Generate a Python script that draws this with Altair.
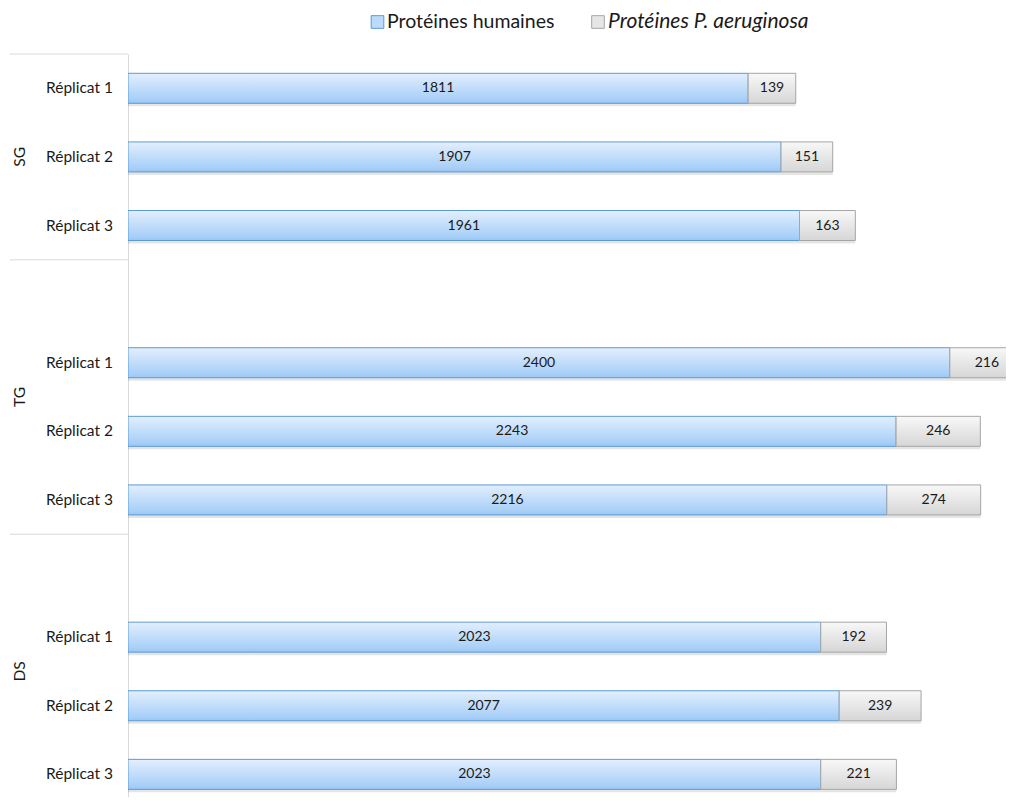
import altair as alt
import pandas as pd

# ---- data -----------------------------------------------------------------
groups = ["SG", "TG", "DS"]
replicats = ["Réplicat 1", "Réplicat 2", "Réplicat 3"]
row_groups = ["SG", "SG", "SG", "TG", "TG", "TG", "DS", "DS", "DS"]
row_replicats = replicats * 3
human = [1811, 1907, 1961, 2400, 2243, 2216, 2023, 2077, 2023]
aeruginosa = [139, 151, 163, 216, 246, 274, 192, 239, 221]
# category order of the original axis (with the empty category before TG and DS)
categories = [
    "SG|Réplicat 1", "SG|Réplicat 2", "SG|Réplicat 3",
    "TG|", "TG|Réplicat 1", "TG|Réplicat 2", "TG|Réplicat 3",
    "DS|", "DS|Réplicat 1", "DS|Réplicat 2", "DS|Réplicat 3",
]
series = ["Protéines humaines", "Protéines P. aeruginosa"]

# ---- tables ---------------------------------------------------------------
df = pd.DataFrame({
    "groupe": row_groups,
    "replicat": row_replicats,
    "humain": human,
    "pa": aeruginosa,
})
df["slot"] = [categories.index(f"{g}|{r}") for g, r in zip(df.groupe, df.replicat)]
df["total"] = df.humain + df.pa

cat_df = pd.DataFrame({"cat": categories, "slot": range(len(categories))})
cat_df["groupe"] = cat_df.cat.str.split("|").str[0]
grp_df = cat_df.groupby("groupe", sort=False).agg(start=("slot", "min"), mid=("slot", "mean")).reset_index()
grp_df["sep"] = grp_df.start - 0.5

legend_df = pd.DataFrame({"serie": series})

# ---- scales ---------------------------------------------------------------
FONT = "Lato"
xscale = alt.Scale(domain=[0, 2564], nice=False, zero=True, padding=0)
yscale = alt.Scale(domain=[-0.5, 10.33], nice=False, zero=False, reverse=True, padding=0)

blue = alt.Gradient(
    gradient="linear", x1=0, x2=0, y1=0, y2=1,
    stops=[alt.GradientStop(offset=0, color="#E3EFFD"),
           alt.GradientStop(offset=0.85, color="#A9D0F8"),
           alt.GradientStop(offset=1, color="#9CC6F3")],
)
grey = alt.Gradient(
    gradient="linear", x1=0, x2=0, y1=0, y2=1,
    stops=[alt.GradientStop(offset=0, color="#F8F8F8"),
           alt.GradientStop(offset=1, color="#D6D6D6")],
)

base = alt.Chart(df)
Y = alt.Y("slot:Q", scale=yscale,
          axis=alt.Axis(labels=False, ticks=False, grid=False, title=None,
                        domain=True, domainColor="#D9D9D9", domainWidth=1))

shadow = base.mark_bar(orient="horizontal", size=30, fill="#000000", opacity=0.10,
                       yOffset=3, clip=True).encode(
    x=alt.X("zero:Q", scale=xscale, axis=None),
    x2="total:Q",
    y=Y,
).transform_calculate(zero="0")

bar_h = base.mark_bar(orient="horizontal", size=30, fill=blue, stroke="#5B9BD5",
                      strokeWidth=1, clip=True).encode(
    x=alt.X("zero:Q", scale=xscale, axis=None),
    x2="humain:Q",
    y=Y,
).transform_calculate(zero="0")

bar_pa = base.mark_bar(orient="horizontal", size=30, fill=grey, stroke="#A6A6A6",
                       strokeWidth=1, clip=True).encode(
    x=alt.X("humain:Q", scale=xscale, axis=None),
    x2="total:Q",
    y=Y,
)

txt_h = base.mark_text(font=FONT, fontSize=14, color="#1a1a1a").encode(
    x=alt.X("mid_h:Q", scale=xscale, axis=None),
    y=Y,
    text="humain:Q",
).transform_calculate(mid_h="datum.humain / 2")

txt_pa = base.mark_text(font=FONT, fontSize=14, color="#1a1a1a").encode(
    x=alt.X("mid_pa:Q", scale=xscale, axis=None),
    y=Y,
    text="pa:Q",
).transform_calculate(mid_pa="datum.humain + datum.pa / 2")

rep_labels = base.mark_text(font=FONT, fontSize=15.5, color="#1a1a1a", align="right").encode(
    x=alt.value(-15),
    y=Y,
    text="replicat:N",
)

gbase = alt.Chart(grp_df)
grp_labels = gbase.mark_text(font=FONT, fontSize=15.5, color="#1a1a1a", angle=270).encode(
    x=alt.value(-108),
    y=alt.Y("mid:Q", scale=yscale),
    text="groupe:N",
)
grp_sep = gbase.mark_rule(color="#D9D9D9", strokeWidth=1).encode(
    x=alt.value(-118),
    x2=alt.value(0),
    y=alt.Y("sep:Q", scale=yscale),
)

lbase = alt.Chart(legend_df)
leg_sq1 = lbase.transform_filter(alt.datum.serie == series[0]).mark_square(
    size=160, fill="#BCDBFA", stroke="#5B9BD5", strokeWidth=1, opacity=1).encode(
    x=alt.value(249.5), y=alt.value(-32))
leg_tx1 = lbase.transform_filter(alt.datum.serie == series[0]).mark_text(
    font=FONT, fontSize=19.5, align="left", color="#1a1a1a").encode(
    x=alt.value(259), y=alt.value(-32), text="serie:N")
leg_sq2 = lbase.transform_filter(alt.datum.serie == series[1]).mark_square(
    size=160, fill="#E6E6E6", stroke="#A6A6A6", strokeWidth=1, opacity=1).encode(
    x=alt.value(470), y=alt.value(-32))
leg_tx2 = lbase.transform_filter(alt.datum.serie == series[1]).mark_text(
    font=FONT, fontSize=21, fontStyle="italic", align="left", color="#1a1a1a").encode(
    x=alt.value(480), y=alt.value(-32), text="serie:N")

chart = alt.layer(
    shadow, bar_h, bar_pa, txt_h, txt_pa, rep_labels, grp_labels, grp_sep,
    leg_sq1, leg_tx1, leg_sq2, leg_tx2,
).properties(
    width=878, height=743,
    autosize=alt.AutoSizeParams(type="none"),
    padding={"left": 120, "top": 46, "right": 0, "bottom": 0},
).configure(
    background="white"
).configure_view(
    stroke="transparent", strokeWidth=0
).configure_axisX(
    disable=True
)

chart.save("out.html", embed_options={"renderer": "svg", "actions": False})
